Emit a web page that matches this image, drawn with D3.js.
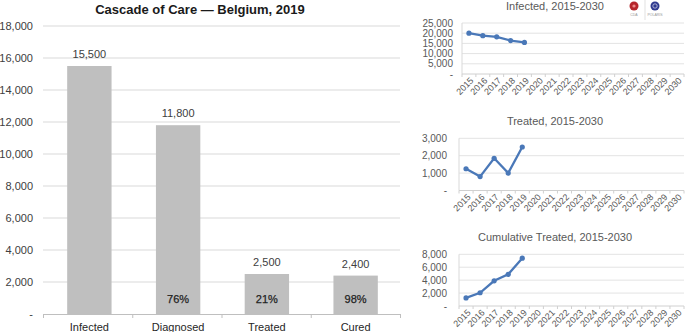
<!DOCTYPE html>
<html><head><meta charset="utf-8">
<script src="https://cdn.jsdelivr.net/npm/d3@7"></script>
<style>
html,body{margin:0;padding:0;background:#fff;}
svg{display:block;font-family:"Liberation Sans",Arial,sans-serif;}
</style></head>
<body>
<svg id="chart" width="685" height="332"></svg>
<script>
// ---- data ----
const cascadeCategories = ["Infected", "Diagnosed", "Treated", "Cured"];
const cascadeValues = [15500, 11800, 2500, 2400];
const cascadePercents = ["", "76%", "21%", "98%"];
const mainYTicks = [0, 2000, 4000, 6000, 8000, 10000, 12000, 14000, 16000, 18000];

const years = ["2015","2016","2017","2018","2019","2020","2021","2022","2023","2024","2025","2026","2027","2028","2029","2030"];
const infectedYears = ["2015","2016","2017","2018","2019"];
const infectedValues = [20000, 18800, 18200, 16400, 15500];
const infectedTicks = [0, 5000, 10000, 15000, 20000, 25000];
const treatedValues = [1250, 800, 1850, 1000, 2500];
const treatedTicks = [0, 1000, 2000, 3000];
const cumulativeValues = [1250, 2050, 3900, 4900, 7400];
const cumulativeTicks = [0, 2000, 4000, 6000, 8000];

const svg = d3.select("#chart");
const fmt = v => v === 0 ? "-" : d3.format(",")(v);
const grid = "#d9d9d9", txt = "#404040";

// ---- main cascade chart ----
svg.append("text").attr("x", 200).attr("y", 14).attr("text-anchor", "middle")
  .attr("font-size", 13).attr("font-weight", "bold").attr("fill", "#1a1a1a")
  .text("Cascade of Care \u2014 Belgium, 2019");

const mx0 = 43, mx1 = 400;
const y = d3.scaleLinear().domain([0, 18000]).range([314, 26]);
const x = d3.scaleBand().domain(cascadeCategories).range([45, 400]).paddingInner(0.5).paddingOuter(0.25);

const gMain = svg.append("g");
gMain.selectAll("line.grid").data(mainYTicks.filter(d => d > 0)).join("line")
  .attr("x1", mx0).attr("x2", mx1).attr("y1", d => y(d)).attr("y2", d => y(d))
  .attr("stroke", grid).attr("stroke-width", 1);
gMain.selectAll("text.yl").data(mainYTicks).join("text")
  .attr("x", 33).attr("y", d => y(d)).attr("dy", "0.35em").attr("text-anchor", "end")
  .attr("font-size", 11).attr("fill", txt).text(fmt);

gMain.selectAll("rect").data(cascadeValues).join("rect")
  .attr("x", (d, i) => x(cascadeCategories[i])).attr("width", x.bandwidth())
  .attr("y", d => y(d)).attr("height", d => y(0) - y(d)).attr("fill", "#bfbfbf");

// axis line with ticks
const xAxis = d3.axisBottom(d3.scaleLinear().domain([0, 4]).range([mx0, mx1])).ticks(4).tickSize(4).tickFormat("");
const ax = gMain.append("g").attr("transform", `translate(0,${y(0)})`).call(xAxis);
ax.selectAll("path,line").attr("stroke", "#bfbfbf");

gMain.selectAll("text.val").data(cascadeValues).join("text")
  .attr("x", (d, i) => x(cascadeCategories[i]) + x.bandwidth() / 2)
  .attr("y", d => y(d) - 8).attr("text-anchor", "middle")
  .attr("font-size", 11).attr("fill", txt).text(d => d3.format(",")(d));
gMain.selectAll("text.pct").data(cascadePercents).join("text")
  .attr("x", (d, i) => x(cascadeCategories[i]) + x.bandwidth() / 2)
  .attr("y", 299).attr("dy", "0.35em").attr("text-anchor", "middle")
  .attr("font-size", 11).attr("fill", "#1f1f1f").attr("stroke", "#1f1f1f").attr("stroke-width", 0.25).text(d => d);
gMain.selectAll("text.cat").data(cascadeCategories).join("text")
  .attr("x", d => x(d) + x.bandwidth() / 2).attr("y", 327).attr("dy", "0.35em")
  .attr("text-anchor", "middle").attr("font-size", 11).attr("fill", "#262626").text(d => d);

// ---- small line charts ----
function smallChart(opt) {
  const g = svg.append("g");
  const ys = d3.scaleLinear().domain([0, d3.max(opt.ticks)]).range([opt.y0, opt.y1]);
  const xs = d3.scaleBand().domain(years).range([opt.left, 684]);
  g.append("text").attr("x", 555).attr("y", opt.titleY).attr("dy", "0.35em")
    .attr("text-anchor", "middle").attr("font-size", 11).attr("fill", "#595959").text(opt.title);
  g.selectAll("line.grid").data(opt.ticks.filter(d => d > 0)).join("line")
    .attr("x1", opt.left).attr("x2", 684).attr("y1", d => ys(d)).attr("y2", d => ys(d))
    .attr("stroke", "#e3e3e3");
  g.append("line").attr("x1", opt.left).attr("x2", opt.left).attr("y1", ys(d3.max(opt.ticks))).attr("y2", ys(0))
    .attr("stroke", "#d9d9d9");
  g.selectAll("text.yl").data(opt.ticks).join("text")
    .attr("x", opt.labelX).attr("y", d => ys(d)).attr("dy", "0.35em").attr("text-anchor", "end")
    .attr("font-size", 10).attr("fill", "#595959").text(fmt);
  const bounds = years.map(d => xs(d)).concat([684]);
  g.append("line").attr("x1", opt.left).attr("x2", 684).attr("y1", ys(0)).attr("y2", ys(0)).attr("stroke", "#d0d0d0");
  g.selectAll("line.tk").data(bounds).join("line")
    .attr("x1", d => d).attr("x2", d => d).attr("y1", ys(0)).attr("y2", ys(0) + 3).attr("stroke", "#d0d0d0");
  g.selectAll("text.xl").data(years).join("text")
    .attr("transform", d => `translate(${xs(d) + xs.bandwidth() / 2 + 3},${ys(0) + 5}) rotate(-45)`)
    .attr("text-anchor", "end").attr("dy", "0.35em").attr("font-size", 9).attr("fill", "#595959").text(d => d);
  const pts = opt.values.map((v, i) => [xs(infectedYears[i]) + xs.bandwidth() / 2, ys(v)]);
  g.append("path").attr("d", d3.line()(pts)).attr("fill", "none").attr("stroke", "#4a78b8").attr("stroke-width", 2.3);
  g.selectAll("circle").data(pts).join("circle").attr("cx", d => d[0]).attr("cy", d => d[1]).attr("r", 2.6).attr("fill", "#4a78b8");
}

smallChart({title: "Infected, 2015-2030", titleY: 6, values: infectedValues, ticks: infectedTicks, y0: 74, y1: 23, left: 462, labelX: 453});
smallChart({title: "Treated, 2015-2030", titleY: 121, values: treatedValues, ticks: treatedTicks, y0: 190.5, y1: 138.3, left: 459, labelX: 447});
smallChart({title: "Cumulative Treated, 2015-2030", titleY: 237, values: cumulativeValues, ticks: cumulativeTicks, y0: 306, y1: 254.3, left: 459, labelX: 447});

// ---- logos ----
const lg = svg.append("g");
lg.append("circle").attr("cx", 634).attr("cy", 6).attr("r", 4.5).attr("fill", "#b5262b");
lg.append("circle").attr("cx", 634).attr("cy", 6).attr("r", 1.6).attr("fill", "#e88");
lg.append("line").attr("x1", 645).attr("x2", 645).attr("y1", 0).attr("y2", 20).attr("stroke", "#ccc").attr("stroke-width", 0.6);
lg.append("circle").attr("cx", 655).attr("cy", 6).attr("r", 4.5).attr("fill", "#2f3a8f");
lg.append("circle").attr("cx", 655).attr("cy", 6).attr("r", 2.2).attr("fill", "none").attr("stroke", "#dde").attr("stroke-width", 0.7);
lg.append("text").attr("x", 634).attr("y", 16).attr("text-anchor", "middle").attr("font-size", 3.5).attr("fill", "#999").text("CDA");
lg.append("text").attr("x", 655).attr("y", 16).attr("text-anchor", "middle").attr("font-size", 3.5).attr("fill", "#999").text("POLARIS");
</script>
</body></html>
